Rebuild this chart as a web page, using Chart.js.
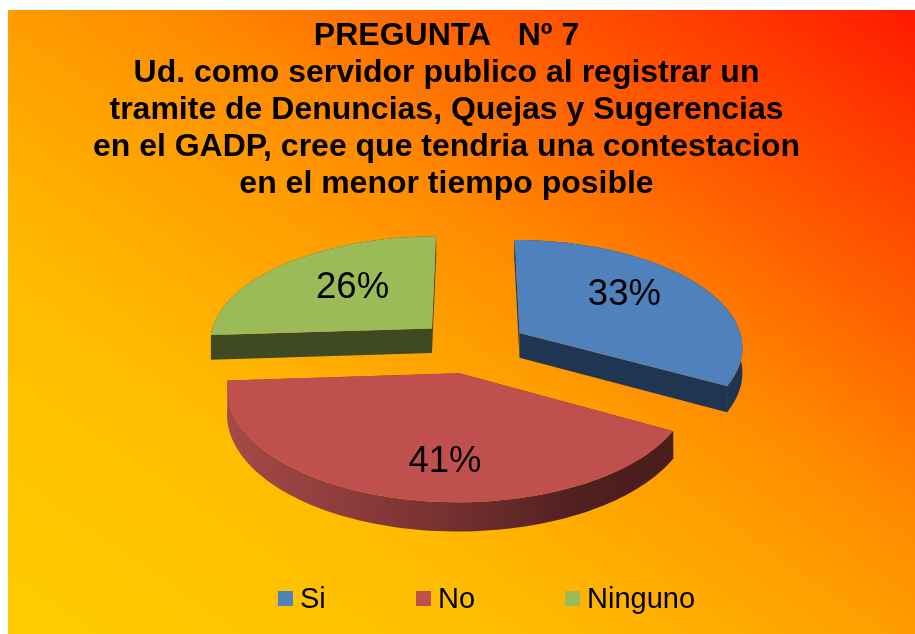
<!DOCTYPE html>
<html>
<head>
<meta charset="utf-8">
<style>
html,body{margin:0;padding:0;background:#fff;overflow:hidden}
#wrap{position:absolute;left:8px;top:10px;width:907px;height:624px}
canvas{display:block}
</style>
<script src="https://cdn.jsdelivr.net/npm/chart.js@4/dist/chart.umd.min.js"></script>
</head>
<body>
<div id="wrap"><canvas id="c" width="907" height="624"></canvas></div>
<script>
const categories = ["Si", "No", "Ninguno"];
const percentages = [33, 41, 26];
const sliceColors = ["#4F81BD", "#C0504D", "#9BBB59"];
const wallColors = ["#1F3552", null, "#3F4A23"];
const titleLines = [
  "PREGUNTA   Nº 7",
  "Ud. como servidor publico al registrar un",
  "tramite de Denuncias, Quejas y Sugerencias",
  "en el GADP, cree que tendria una contestacion",
  "en el menor tiempo posible"
];

// view parameters of the tilted pie
const view = { shiftX: 25.5, A: 224, B: 107, k: 0.117, depth: 25, steps: 90 };
const FONT = '"Liberation Sans", Arial, sans-serif';

function project(cx, cy, X, Y, down) {
  const w = 1 + view.k * Y;
  return [cx + view.shiftX + view.A * X / w, cy - view.B * Y / w + (down ? view.depth / w : 0)];
}
function sliceGeometry(arc) {
  const p = arc.getProps(["x", "y", "startAngle", "endAngle", "outerRadius"], true);
  const t0 = p.startAngle + Math.PI / 2, t1 = p.endAngle + Math.PI / 2, mid = (t0 + t1) / 2;
  const e = (arc.options.offset || 0) / p.outerRadius;
  const ax = e * Math.sin(mid), ay = e * Math.cos(mid);
  const pts = [];
  for (let i = 0; i <= view.steps; i++) {
    const t = t0 + (t1 - t0) * i / view.steps;
    pts.push([ax + Math.sin(t), ay + Math.cos(t)]);
  }
  return { x: p.x, y: p.y, apex: [ax, ay], pts, mid };
}
function poly(ctx, list) {
  ctx.beginPath();
  list.forEach((q, i) => i ? ctx.lineTo(q[0], q[1]) : ctx.moveTo(q[0], q[1]));
  ctx.closePath();
}

const backgroundPlugin = {
  id: "fireBackground",
  beforeDraw(chart) {
    const { ctx, width, height } = chart;
    const len = Math.hypot(width, height);
    const ux = height / len, uy = -width / len;
    const half = Math.abs(-width / 2 * ux + height / 2 * uy);
    const g = ctx.createLinearGradient(width / 2 - ux * half, height / 2 - uy * half,
                                       width / 2 + ux * half, height / 2 + uy * half);
    g.addColorStop(0, "#FFCC00");
    g.addColorStop(0.3, "#FFBB00");
    g.addColorStop(0.5, "#FF9C00");
    g.addColorStop(0.6, "#FF8800");
    g.addColorStop(1, "#FF1A00");
    ctx.fillStyle = g;
    ctx.fillRect(0, 0, width, height);
  }
};

const tiltedPiePlugin = {
  id: "tiltedPie",
  beforeDatasetDraw(chart, args) {
    const { ctx } = chart;
    const arcs = chart.getDatasetMeta(args.index).data;
    [2, 0, 1].forEach(i => {
      const s = sliceGeometry(arcs[i]);
      const P = (q, d) => project(s.x, s.y, q[0], q[1], d);
      const top = s.pts.map(q => P(q, false));
      const low = s.pts.map(q => P(q, true));
      const a0 = P(s.apex, false), a1 = P(s.apex, true);
      let wall = wallColors[i];
      if (!wall) {
        const xs = top.map(q => q[0]);
        const g = ctx.createLinearGradient(Math.min(...xs), 0, Math.max(...xs), 0);
        g.addColorStop(0, "#A64A47");
        g.addColorStop(0.5, "#753030");
        g.addColorStop(0.8, "#4F1F1F");
        g.addColorStop(1, "#4A1D1D");
        wall = g;
      }
      ctx.fillStyle = wall;
      poly(ctx, top.concat(low.slice().reverse())); ctx.fill();
      poly(ctx, [a0, top[0], low[0], a1]); ctx.fill();
      poly(ctx, [a0, top[top.length - 1], low[low.length - 1], a1]); ctx.fill();
      ctx.fillStyle = arcs[i].options.backgroundColor;
      poly(ctx, [a0].concat(top)); ctx.fill();
    });
    return false;
  }
};

// label nudges relative to the slice's mid radius, in unit-radius terms
const labelRadius = [0.6, 0.7, 0.52];
const labelNudge = [[-3.6, -7.5], [25, 4], [-1, -5]];
const percentLabelPlugin = {
  id: "percentLabels",
  afterDatasetsDraw(chart) {
    const { ctx } = chart;
    const arcs = chart.getDatasetMeta(0).data;
    ctx.save();
    ctx.fillStyle = "#000";
    ctx.font = "36.5px " + FONT;
    ctx.textAlign = "center";
    ctx.textBaseline = "middle";
    percentages.forEach((v, i) => {
      const s = sliceGeometry(arcs[i]);
      const r = labelRadius[i];
      const q = project(s.x, s.y, s.apex[0] + r * Math.sin(s.mid), s.apex[1] + r * Math.cos(s.mid), false);
      ctx.fillText(v + "%", q[0] + labelNudge[i][0], q[1] + labelNudge[i][1]);
    });
    ctx.restore();
  }
};

const legendBoxX = [270, 408, 557];
const legendPlugin = {
  id: "bottomLegend",
  afterDraw(chart) {
    const { ctx } = chart;
    ctx.save();
    ctx.font = "29px " + FONT;
    ctx.textBaseline = "middle";
    categories.forEach((c, i) => {
      ctx.fillStyle = sliceColors[i];
      ctx.fillRect(legendBoxX[i], 581, 15, 15);
      ctx.fillStyle = "#000";
      ctx.fillText(c, legendBoxX[i] + 22, 589.5);
    });
    ctx.restore();
  }
};

new Chart(document.getElementById("c"), {
  type: "pie",
  data: {
    labels: categories,
    datasets: [{ data: percentages, backgroundColor: sliceColors, borderWidth: 0, offset: 45, radius: 180 }]
  },
  options: {
    responsive: false,
    animation: false,
    events: [],
    layout: { padding: { top: 0, left: 0, right: 30, bottom: 152 } },
    plugins: {
      legend: { display: false },
      tooltip: { enabled: false },
      title: {
        display: true,
        text: titleLines,
        color: "#000",
        font: { family: FONT, size: 32, weight: "bold", lineHeight: 1.156 },
        padding: { top: 8, bottom: 8 }
      }
    }
  },
  plugins: [backgroundPlugin, tiltedPiePlugin, percentLabelPlugin, legendPlugin]
});
</script>
</body>
</html>
